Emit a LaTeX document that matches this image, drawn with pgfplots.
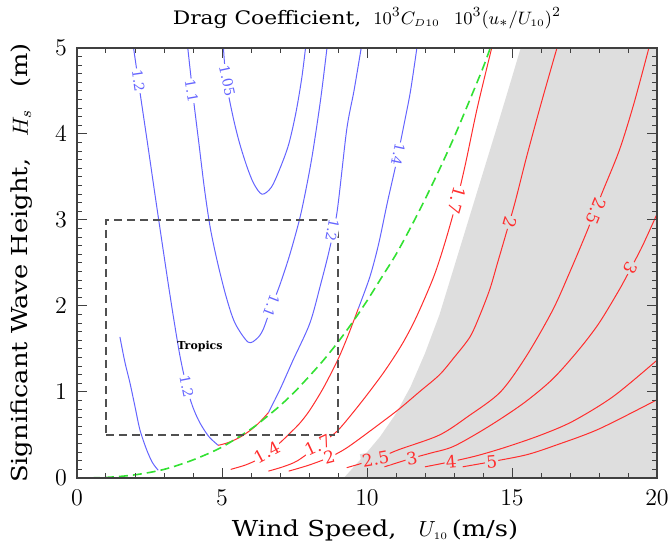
\documentclass[border=0pt]{standalone}
\usepackage{fontspec}
\setmainfont{DejaVu Serif}
\newfontfamily\labfont[FakeStretch=1.17]{DejaVu Serif}
\usepackage{pgfplots}
\pgfplotsset{compat=1.18}
\definecolor{cblue}{RGB}{100,100,255}
\definecolor{cred}{RGB}{255,45,45}
\definecolor{cgreen}{RGB}{50,225,50}
\definecolor{bggray}{RGB}{222,222,222}
\definecolor{boxgray}{RGB}{80,80,80}
\begin{document}
\begin{tikzpicture}
\begin{axis}[
  width=290pt, height=215pt, scale only axis,
  xmin=0, xmax=20, ymin=0, ymax=5,
  xtick={0,5,10,15,20}, ytick={0,1,2,3,4,5},
  minor x tick num=4, minor y tick num=9,
  tick align=inside, major tick length=5pt, minor tick length=2.5pt,
  axis line style={draw=black!75, line width=0.8pt},
  every tick/.style={black!75, line width=0.5pt},
  tick label style={font=\large},
  xticklabel style={yshift=-2.5pt},
  yticklabel style={xshift=-1.5pt},
  title style={font=\labfont\fontsize{9.3}{11}\selectfont, at={(rel axis cs:0.5,1)}, anchor=center, yshift=9pt},
  title={Drag Coefficient,\hspace{6pt}$10^3C_{\scriptscriptstyle D10}$\hspace{7pt}$10^3(u_*/U_{\scriptscriptstyle 10})^2$},
  xlabel={Wind Speed,\quad $U_{\scriptscriptstyle 10}$\,(m/s)},
  ylabel={Significant Wave Height,\quad $H_s$\quad (m)},
  xlabel style={font=\labfont\fontsize{11}{13}\selectfont, at={(rel axis cs:0.5,0)}, anchor=center, yshift=-26pt, xshift=4pt},
  ylabel style={font=\labfont\fontsize{11}{13}\selectfont, at={(rel axis cs:0,0.5)}, anchor=center, yshift=27.5pt},
  axis on top,
  clip=true,
]
% shaded region
\addplot[fill=bggray, draw=none, sharp plot] coordinates {
 (9.2,0) (9.6,0.15) (10.0,0.3) (10.45,0.48) (11.0,0.75) (11.5,1.06) (12.0,1.45)
 (12.5,1.9) (13.0,2.45) (13.5,3.0) (14.0,3.55) (14.5,4.1) (15.0,4.66) (15.3,5)
 (20,5) (20,0)} -- cycle;

% blue contours
\pgfplotsset{cont/.style={line width=0.5pt, smooth, tension=0.5}}
\addplot[cont, cblue] coordinates {
 (1.95,5) (2.2,4.42) (2.45,3.85) (2.7,3.27) (2.95,2.7) (3.15,2.25) (3.35,1.82)
 (3.55,1.42) (3.78,1.06) (4.0,0.82) (4.24,0.64) (4.55,0.48) (4.87,0.38)};
\addplot[cont, cblue] coordinates {
 (6.6,0.76) (7.0,1.03) (7.45,1.37) (8.03,1.8) (8.4,2.25) (8.7,2.65) (8.97,3.1)
 (9.3,4.05) (9.55,4.5) (9.8,5.0)};
\addplot[cont, cblue] coordinates {
 (3.82,5) (4.0,4.45) (4.2,3.9) (4.4,3.35) (4.6,2.9) (4.85,2.5) (5.15,2.1)
 (5.45,1.8) (5.9,1.58) (6.2,1.62) (6.41,1.72) (6.66,1.95) (7.0,2.25) (7.34,2.6)
 (7.69,3.03) (7.95,3.45) (8.14,3.81) (8.4,4.4) (8.62,5.0)};
\addplot[cont, cblue] coordinates {
 (5.05,5) (5.15,4.6) (5.38,4.2) (5.6,3.9) (5.86,3.62) (6.1,3.42) (6.38,3.3)
 (6.7,3.38) (7.0,3.6) (7.3,3.88) (7.55,4.25) (7.75,4.65) (7.88,5.0)};
\addplot[cont, cblue] coordinates {
 (9.7,1.97) (10.1,2.34) (10.4,2.72) (10.7,3.2) (11.0,3.65) (11.3,4.15) (11.5,4.5) (11.72,5)};
\addplot[cont, cblue] coordinates {
 (1.48,1.64) (1.65,1.35) (1.83,1.10) (2.0,0.83) (2.17,0.56) (2.4,0.33) (2.6,0.18) (2.8,0.09)};

% red contours
\addplot[cont, cred] coordinates {
 (4.87,0.38) (5.2,0.41) (5.6,0.47) (6.0,0.56) (6.3,0.65) (6.6,0.76)};
\addplot[cont, cred] coordinates {
 (5.3,0.1) (5.8,0.15) (6.2,0.21) (6.6,0.3) (7.0,0.41) (7.34,0.52) (7.69,0.64)
 (8.03,0.79) (8.5,1.05) (9.0,1.38) (9.35,1.66) (9.7,1.97)};
\addplot[cont, cred] coordinates {
 (6.6,0.08) (7.1,0.13) (7.6,0.2) (8.3,0.37) (8.7,0.47) (9.07,0.58) (9.8,0.88)
 (10.56,1.22) (11.2,1.55) (11.7,1.87) (12.3,2.34) (12.7,2.75) (13.1,3.23)
 (13.4,3.66) (13.8,4.3) (14.3,5)};
\addplot[cont, cred] coordinates {
 (7.3,0.08) (8.0,0.15) (8.7,0.24) (9.3,0.35) (10.2,0.57) (11.1,0.8) (11.8,1.0)
 (12.5,1.2) (13.0,1.4) (13.55,1.64) (13.9,1.9) (14.24,2.2) (14.5,2.5) (14.76,2.8)
 (15.1,3.2) (15.5,3.73) (16.0,4.35) (16.55,5)};
\addplot[cont, cred] coordinates {
 (9.3,0.12) (10.3,0.22) (11.1,0.33) (12.5,0.5) (13.5,0.72) (14.6,1.0) (15.5,1.42)
 (16.4,1.95) (17.0,2.4) (17.6,2.88) (18.1,3.31) (18.7,3.81) (19.2,4.35) (19.72,5)};
\addplot[cont, cred] coordinates {
 (10.6,0.13) (11.55,0.23) (12.2,0.29) (13.0,0.37) (14.2,0.6) (15.4,0.87) (16.4,1.15)
 (17.3,1.49) (18.0,1.8) (18.7,2.19) (19.1,2.44) (19.5,2.7) (20,3.07)};
\addplot[cont, cred] coordinates {
 (12.0,0.13) (12.9,0.19) (13.8,0.26) (14.8,0.36) (16.0,0.5) (17.1,0.66) (18.5,0.95) (20,1.37)};
\addplot[cont, cred] coordinates {
 (13.3,0.13) (14.3,0.19) (15.5,0.27) (16.5,0.38) (18.0,0.57) (20,0.91)};

% green boundary
\addplot[cgreen, line width=0.8pt, smooth, dash pattern=on 4.5pt off 2.5pt] coordinates {
 (0,0) (1,0.0065) (2,0.037) (3,0.10) (4,0.21) (5,0.36) (6,0.57) (6.5,0.7) (7,0.84)
 (7.5,1.0) (8,1.18) (8.5,1.37) (9,1.58) (9.5,1.81) (10,2.06) (10.5,2.33) (11,2.6)
 (11.5,2.91) (12,3.24) (12.5,3.59) (13,3.96) (13.5,4.36) (14,4.77) (14.25,5.0)};

% tropics box
\addplot[boxgray, line width=0.8pt, sharp plot, dash pattern=on 4pt off 2.5pt] coordinates {
 (1,0.5) (9,0.5) (9,3) (1,3) (1,0.5)};

% labels
\tikzset{cl/.style={font=\fontsize{7}{8}\selectfont, inner sep=0.6pt},
         rl/.style={font=\fontsize{8.5}{9}\selectfont, inner sep=0.6pt}}
\node[cl, cblue, fill=white, rotate=-82] at (axis cs:2.12,4.62) {1.2};
\node[cl, cblue, fill=white, rotate=-80] at (axis cs:3.95,4.5) {1.1};
\node[cl, cblue, fill=white, rotate=-78] at (axis cs:5.18,4.62) {1.05};
\node[cl, cblue, fill=white, rotate=-111] at (axis cs:6.7,2.0) {1.1};
\node[cl, cblue, fill=white, rotate=-101] at (axis cs:8.8,2.88) {1.2};
\node[cl, cblue, fill=white, rotate=-79] at (axis cs:3.78,1.06) {1.2};
\node[cl, cblue, fill=white, rotate=-102] at (axis cs:11.07,3.76) {1.4};
\node[rl, cred, fill=white, rotate=-106] at (axis cs:13.1,3.23) {1.7};
\node[rl, cred, fill=bggray, rotate=-106] at (axis cs:14.93,2.97) {2};
\node[rl, cred, fill=bggray, rotate=-112] at (axis cs:17.9,3.1) {2.5};
\node[rl, cred, fill=bggray, rotate=-117] at (axis cs:19.1,2.44) {3};
\node[rl, cred, fill=white, rotate=28] at (axis cs:6.55,0.3) {1.4};
\node[rl, cred, fill=white, rotate=25] at (axis cs:8.3,0.38) {1.7};
\node[rl, cred, fill=white, rotate=15] at (axis cs:8.7,0.24) {2};
\node[rl, cred, fill=bggray, rotate=10] at (axis cs:10.3,0.22) {2.5};
\node[rl, cred, fill=bggray, rotate=10] at (axis cs:11.55,0.23) {3};
\node[rl, cred, fill=bggray, rotate=5] at (axis cs:12.9,0.19) {4};
\node[rl, cred, fill=bggray, rotate=5] at (axis cs:14.3,0.19) {5};
\node[font=\fontsize{5.5}{6}\selectfont\bfseries, inner sep=0pt] at (axis cs:4.24,1.53) {Tropics};
\coordinate (ll) at (rel axis cs:0,0);
\coordinate (ur) at (rel axis cs:1,1);
\end{axis}
\pgfresetboundingbox
\useasboundingbox ([shift={(-38.5pt,-35pt)}]ll) rectangle ([shift={(7.5pt,24pt)}]ur);
\end{tikzpicture}
\end{document}
